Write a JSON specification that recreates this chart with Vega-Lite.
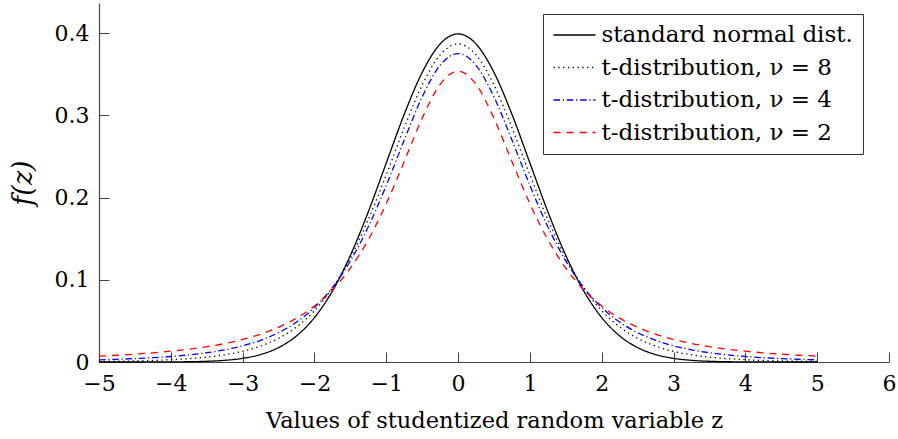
{
  "$schema": "https://vega.github.io/schema/vega-lite/v6.json",
  "width": 790,
  "height": 359,
  "autosize": {"type": "none"},
  "padding": {"left": 99, "top": 3, "right": 9, "bottom": 77},
  "config": {
    "view": {"stroke": null},
    "font": "DejaVu Serif",
    "axis": {
      "grid": false,
      "domainColor": "#444",
      "domainWidth": 1.2,
      "tickColor": "#444",
      "tickWidth": 1,
      "tickSize": -10,
      "labelFont": "DejaVu Serif",
      "titleFont": "DejaVu Serif",
      "labelColor": "black",
      "titleColor": "black",
      "labelFontSize": 22,
      "titleFontSize": 22.5,
      "titleFontWeight": "normal",
      "labelOverlap": false,
      "labelFlush": false
    },
    "legend": {
      "labelFont": "DejaVu Serif"
    }
  },
  "data": {
    "values": [
      {"z": -5, "f": 0.0, "dist": "standard normal dist."},
      {"z": -4.75, "f": 0.00001, "dist": "standard normal dist."},
      {"z": -4.5, "f": 0.00002, "dist": "standard normal dist."},
      {"z": -4.25, "f": 0.00005, "dist": "standard normal dist."},
      {"z": -4, "f": 0.00013, "dist": "standard normal dist."},
      {"z": -3.75, "f": 0.00035, "dist": "standard normal dist."},
      {"z": -3.5, "f": 0.00087, "dist": "standard normal dist."},
      {"z": -3.25, "f": 0.00203, "dist": "standard normal dist."},
      {"z": -3, "f": 0.00443, "dist": "standard normal dist."},
      {"z": -2.75, "f": 0.00909, "dist": "standard normal dist."},
      {"z": -2.5, "f": 0.01753, "dist": "standard normal dist."},
      {"z": -2.25, "f": 0.03174, "dist": "standard normal dist."},
      {"z": -2, "f": 0.05399, "dist": "standard normal dist."},
      {"z": -1.75, "f": 0.08628, "dist": "standard normal dist."},
      {"z": -1.5, "f": 0.12952, "dist": "standard normal dist."},
      {"z": -1.25, "f": 0.18265, "dist": "standard normal dist."},
      {"z": -1, "f": 0.24197, "dist": "standard normal dist."},
      {"z": -0.75, "f": 0.30114, "dist": "standard normal dist."},
      {"z": -0.5, "f": 0.35207, "dist": "standard normal dist."},
      {"z": -0.25, "f": 0.38667, "dist": "standard normal dist."},
      {"z": 0, "f": 0.39894, "dist": "standard normal dist."},
      {"z": 0.25, "f": 0.38667, "dist": "standard normal dist."},
      {"z": 0.5, "f": 0.35207, "dist": "standard normal dist."},
      {"z": 0.75, "f": 0.30114, "dist": "standard normal dist."},
      {"z": 1, "f": 0.24197, "dist": "standard normal dist."},
      {"z": 1.25, "f": 0.18265, "dist": "standard normal dist."},
      {"z": 1.5, "f": 0.12952, "dist": "standard normal dist."},
      {"z": 1.75, "f": 0.08628, "dist": "standard normal dist."},
      {"z": 2, "f": 0.05399, "dist": "standard normal dist."},
      {"z": 2.25, "f": 0.03174, "dist": "standard normal dist."},
      {"z": 2.5, "f": 0.01753, "dist": "standard normal dist."},
      {"z": 2.75, "f": 0.00909, "dist": "standard normal dist."},
      {"z": 3, "f": 0.00443, "dist": "standard normal dist."},
      {"z": 3.25, "f": 0.00203, "dist": "standard normal dist."},
      {"z": 3.5, "f": 0.00087, "dist": "standard normal dist."},
      {"z": 3.75, "f": 0.00035, "dist": "standard normal dist."},
      {"z": 4, "f": 0.00013, "dist": "standard normal dist."},
      {"z": 4.25, "f": 0.00005, "dist": "standard normal dist."},
      {"z": 4.5, "f": 0.00002, "dist": "standard normal dist."},
      {"z": 4.75, "f": 0.00001, "dist": "standard normal dist."},
      {"z": 5, "f": 0.0, "dist": "standard normal dist."},

      {"z": -5, "f": 0.00066, "dist": "t-distribution, ν = 8"},
      {"z": -4.75, "f": 0.00093, "dist": "t-distribution, ν = 8"},
      {"z": -4.5, "f": 0.00132, "dist": "t-distribution, ν = 8"},
      {"z": -4.25, "f": 0.0019, "dist": "t-distribution, ν = 8"},
      {"z": -4, "f": 0.00276, "dist": "t-distribution, ν = 8"},
      {"z": -3.75, "f": 0.00403, "dist": "t-distribution, ν = 8"},
      {"z": -3.5, "f": 0.00592, "dist": "t-distribution, ν = 8"},
      {"z": -3.25, "f": 0.00876, "dist": "t-distribution, ν = 8"},
      {"z": -3, "f": 0.01301, "dist": "t-distribution, ν = 8"},
      {"z": -2.75, "f": 0.01936, "dist": "t-distribution, ν = 8"},
      {"z": -2.5, "f": 0.02878, "dist": "t-distribution, ν = 8"},
      {"z": -2.25, "f": 0.04258, "dist": "t-distribution, ν = 8"},
      {"z": -2, "f": 0.06237, "dist": "t-distribution, ν = 8"},
      {"z": -1.75, "f": 0.08994, "dist": "t-distribution, ν = 8"},
      {"z": -1.5, "f": 0.12677, "dist": "t-distribution, ν = 8"},
      {"z": -1.25, "f": 0.17326, "dist": "t-distribution, ν = 8"},
      {"z": -1, "f": 0.22761, "dist": "t-distribution, ν = 8"},
      {"z": -0.75, "f": 0.28482, "dist": "t-distribution, ν = 8"},
      {"z": -0.5, "f": 0.33669, "dist": "t-distribution, ν = 8"},
      {"z": -0.25, "f": 0.37339, "dist": "t-distribution, ν = 8"},
      {"z": 0, "f": 0.3867, "dist": "t-distribution, ν = 8"},
      {"z": 0.25, "f": 0.37339, "dist": "t-distribution, ν = 8"},
      {"z": 0.5, "f": 0.33669, "dist": "t-distribution, ν = 8"},
      {"z": 0.75, "f": 0.28482, "dist": "t-distribution, ν = 8"},
      {"z": 1, "f": 0.22761, "dist": "t-distribution, ν = 8"},
      {"z": 1.25, "f": 0.17326, "dist": "t-distribution, ν = 8"},
      {"z": 1.5, "f": 0.12677, "dist": "t-distribution, ν = 8"},
      {"z": 1.75, "f": 0.08994, "dist": "t-distribution, ν = 8"},
      {"z": 2, "f": 0.06237, "dist": "t-distribution, ν = 8"},
      {"z": 2.25, "f": 0.04258, "dist": "t-distribution, ν = 8"},
      {"z": 2.5, "f": 0.02878, "dist": "t-distribution, ν = 8"},
      {"z": 2.75, "f": 0.01936, "dist": "t-distribution, ν = 8"},
      {"z": 3, "f": 0.01301, "dist": "t-distribution, ν = 8"},
      {"z": 3.25, "f": 0.00876, "dist": "t-distribution, ν = 8"},
      {"z": 3.5, "f": 0.00592, "dist": "t-distribution, ν = 8"},
      {"z": 3.75, "f": 0.00403, "dist": "t-distribution, ν = 8"},
      {"z": 4, "f": 0.00276, "dist": "t-distribution, ν = 8"},
      {"z": 4.25, "f": 0.0019, "dist": "t-distribution, ν = 8"},
      {"z": 4.5, "f": 0.00132, "dist": "t-distribution, ν = 8"},
      {"z": 4.75, "f": 0.00093, "dist": "t-distribution, ν = 8"},
      {"z": 5, "f": 0.00066, "dist": "t-distribution, ν = 8"},

      {"z": -5, "f": 0.00265, "dist": "t-distribution, ν = 4"},
      {"z": -4.75, "f": 0.0033, "dist": "t-distribution, ν = 4"},
      {"z": -4.5, "f": 0.00414, "dist": "t-distribution, ν = 4"},
      {"z": -4.25, "f": 0.00525, "dist": "t-distribution, ν = 4"},
      {"z": -4, "f": 0.00671, "dist": "t-distribution, ν = 4"},
      {"z": -3.75, "f": 0.00865, "dist": "t-distribution, ν = 4"},
      {"z": -3.5, "f": 0.01127, "dist": "t-distribution, ν = 4"},
      {"z": -3.25, "f": 0.01483, "dist": "t-distribution, ν = 4"},
      {"z": -3, "f": 0.01969, "dist": "t-distribution, ν = 4"},
      {"z": -2.75, "f": 0.0264, "dist": "t-distribution, ν = 4"},
      {"z": -2.5, "f": 0.03568, "dist": "t-distribution, ν = 4"},
      {"z": -2.25, "f": 0.04854, "dist": "t-distribution, ν = 4"},
      {"z": -2, "f": 0.06629, "dist": "t-distribution, ν = 4"},
      {"z": -1.75, "f": 0.09053, "dist": "t-distribution, ν = 4"},
      {"z": -1.5, "f": 0.12288, "dist": "t-distribution, ν = 4"},
      {"z": -1.25, "f": 0.16444, "dist": "t-distribution, ν = 4"},
      {"z": -1, "f": 0.21466, "dist": "t-distribution, ν = 4"},
      {"z": -0.75, "f": 0.26988, "dist": "t-distribution, ν = 4"},
      {"z": -0.5, "f": 0.32226, "dist": "t-distribution, ν = 4"},
      {"z": -0.25, "f": 0.36074, "dist": "t-distribution, ν = 4"},
      {"z": 0, "f": 0.375, "dist": "t-distribution, ν = 4"},
      {"z": 0.25, "f": 0.36074, "dist": "t-distribution, ν = 4"},
      {"z": 0.5, "f": 0.32226, "dist": "t-distribution, ν = 4"},
      {"z": 0.75, "f": 0.26988, "dist": "t-distribution, ν = 4"},
      {"z": 1, "f": 0.21466, "dist": "t-distribution, ν = 4"},
      {"z": 1.25, "f": 0.16444, "dist": "t-distribution, ν = 4"},
      {"z": 1.5, "f": 0.12288, "dist": "t-distribution, ν = 4"},
      {"z": 1.75, "f": 0.09053, "dist": "t-distribution, ν = 4"},
      {"z": 2, "f": 0.06629, "dist": "t-distribution, ν = 4"},
      {"z": 2.25, "f": 0.04854, "dist": "t-distribution, ν = 4"},
      {"z": 2.5, "f": 0.03568, "dist": "t-distribution, ν = 4"},
      {"z": 2.75, "f": 0.0264, "dist": "t-distribution, ν = 4"},
      {"z": 3, "f": 0.01969, "dist": "t-distribution, ν = 4"},
      {"z": 3.25, "f": 0.01483, "dist": "t-distribution, ν = 4"},
      {"z": 3.5, "f": 0.01127, "dist": "t-distribution, ν = 4"},
      {"z": 3.75, "f": 0.00865, "dist": "t-distribution, ν = 4"},
      {"z": 4, "f": 0.00671, "dist": "t-distribution, ν = 4"},
      {"z": 4.25, "f": 0.00525, "dist": "t-distribution, ν = 4"},
      {"z": 4.5, "f": 0.00414, "dist": "t-distribution, ν = 4"},
      {"z": 4.75, "f": 0.0033, "dist": "t-distribution, ν = 4"},
      {"z": 5, "f": 0.00265, "dist": "t-distribution, ν = 4"},

      {"z": -5, "f": 0.00713, "dist": "t-distribution, ν = 2"},
      {"z": -4.75, "f": 0.00822, "dist": "t-distribution, ν = 2"},
      {"z": -4.5, "f": 0.00953, "dist": "t-distribution, ν = 2"},
      {"z": -4.25, "f": 0.01113, "dist": "t-distribution, ν = 2"},
      {"z": -4, "f": 0.0131, "dist": "t-distribution, ν = 2"},
      {"z": -3.75, "f": 0.01553, "dist": "t-distribution, ν = 2"},
      {"z": -3.5, "f": 0.01859, "dist": "t-distribution, ν = 2"},
      {"z": -3.25, "f": 0.02246, "dist": "t-distribution, ν = 2"},
      {"z": -3, "f": 0.02741, "dist": "t-distribution, ν = 2"},
      {"z": -2.75, "f": 0.03382, "dist": "t-distribution, ν = 2"},
      {"z": -2.5, "f": 0.0422, "dist": "t-distribution, ν = 2"},
      {"z": -2.25, "f": 0.05328, "dist": "t-distribution, ν = 2"},
      {"z": -2, "f": 0.06804, "dist": "t-distribution, ν = 2"},
      {"z": -1.75, "f": 0.08779, "dist": "t-distribution, ν = 2"},
      {"z": -1.5, "f": 0.11413, "dist": "t-distribution, ν = 2"},
      {"z": -1.25, "f": 0.14872, "dist": "t-distribution, ν = 2"},
      {"z": -1, "f": 0.19245, "dist": "t-distribution, ν = 2"},
      {"z": -0.75, "f": 0.24378, "dist": "t-distribution, ν = 2"},
      {"z": -0.5, "f": 0.2963, "dist": "t-distribution, ν = 2"},
      {"z": -0.25, "f": 0.33761, "dist": "t-distribution, ν = 2"},
      {"z": 0, "f": 0.35355, "dist": "t-distribution, ν = 2"},
      {"z": 0.25, "f": 0.33761, "dist": "t-distribution, ν = 2"},
      {"z": 0.5, "f": 0.2963, "dist": "t-distribution, ν = 2"},
      {"z": 0.75, "f": 0.24378, "dist": "t-distribution, ν = 2"},
      {"z": 1, "f": 0.19245, "dist": "t-distribution, ν = 2"},
      {"z": 1.25, "f": 0.14872, "dist": "t-distribution, ν = 2"},
      {"z": 1.5, "f": 0.11413, "dist": "t-distribution, ν = 2"},
      {"z": 1.75, "f": 0.08779, "dist": "t-distribution, ν = 2"},
      {"z": 2, "f": 0.06804, "dist": "t-distribution, ν = 2"},
      {"z": 2.25, "f": 0.05328, "dist": "t-distribution, ν = 2"},
      {"z": 2.5, "f": 0.0422, "dist": "t-distribution, ν = 2"},
      {"z": 2.75, "f": 0.03382, "dist": "t-distribution, ν = 2"},
      {"z": 3, "f": 0.02741, "dist": "t-distribution, ν = 2"},
      {"z": 3.25, "f": 0.02246, "dist": "t-distribution, ν = 2"},
      {"z": 3.5, "f": 0.01859, "dist": "t-distribution, ν = 2"},
      {"z": 3.75, "f": 0.01553, "dist": "t-distribution, ν = 2"},
      {"z": 4, "f": 0.0131, "dist": "t-distribution, ν = 2"},
      {"z": 4.25, "f": 0.01113, "dist": "t-distribution, ν = 2"},
      {"z": 4.5, "f": 0.00953, "dist": "t-distribution, ν = 2"},
      {"z": 4.75, "f": 0.00822, "dist": "t-distribution, ν = 2"},
      {"z": 5, "f": 0.00713, "dist": "t-distribution, ν = 2"}
    ]
  },
  "mark": {"type": "line", "strokeWidth": 1.3, "interpolate": "monotone"},
  "encoding": {
    "x": {
      "field": "z",
      "type": "quantitative",
      "scale": {"domain": [-5, 6], "nice": false, "zero": false},
      "axis": {
        "values": [-5, -4, -3, -2, -1, 0, 1, 2, 3, 4, 5, 6],
        "labelPadding": 21,
        "title": "Values of studentized random variable z",
        "titlePadding": 15
      }
    },
    "y": {
      "field": "f",
      "type": "quantitative",
      "scale": {"domain": [0, 0.4365], "nice": false},
      "axis": {
        "values": [0, 0.1, 0.2, 0.3, 0.4],
        "format": "~g",
        "labelPadding": 20,
        "title": "f(z)",
        "titleFontSize": 27,
        "titleFontStyle": "italic",
        "titlePadding": 17
      }
    },
    "color": {
      "field": "dist",
      "type": "nominal",
      "sort": ["standard normal dist.", "t-distribution, ν = 8", "t-distribution, ν = 4", "t-distribution, ν = 2"],
      "scale": {
        "domain": ["standard normal dist.", "t-distribution, ν = 8", "t-distribution, ν = 4", "t-distribution, ν = 2"],
        "range": ["#000000", "#000000", "#0000ff", "#ff0000"]
      },
      "legend": {
        "title": null,
        "orient": "none",
        "legendX": 444,
        "legendY": 11,
        "padding": 9.5,
        "strokeColor": "#333",
        "fillColor": "white",
        "symbolType": "M-1,0H3",
        "symbolSize": 441,
        "symbolStrokeWidth": 1.3,
        "labelFontSize": 23,
        "labelLimit": 500,
        "labelColor": "black",
        "labelOffset": 26,
        "rowPadding": 8.5
      }
    },
    "strokeDash": {
      "field": "dist",
      "type": "nominal",
      "sort": ["standard normal dist.", "t-distribution, ν = 8", "t-distribution, ν = 4", "t-distribution, ν = 2"],
      "scale": {
        "domain": ["standard normal dist.", "t-distribution, ν = 8", "t-distribution, ν = 4", "t-distribution, ν = 2"],
        "range": [[1, 0], [1.3, 3.5], [6.5, 2.8, 1.2, 2.8], [7, 6]]
      },
      "legend": {
        "title": null,
        "orient": "none",
        "legendX": 444,
        "legendY": 11,
        "padding": 9.5,
        "strokeColor": "#333",
        "fillColor": "white",
        "symbolType": "M-1,0H3",
        "symbolSize": 441,
        "symbolStrokeWidth": 1.3,
        "labelFontSize": 23,
        "labelLimit": 500,
        "labelColor": "black",
        "labelOffset": 26,
        "rowPadding": 8.5
      }
    }
  }
}
